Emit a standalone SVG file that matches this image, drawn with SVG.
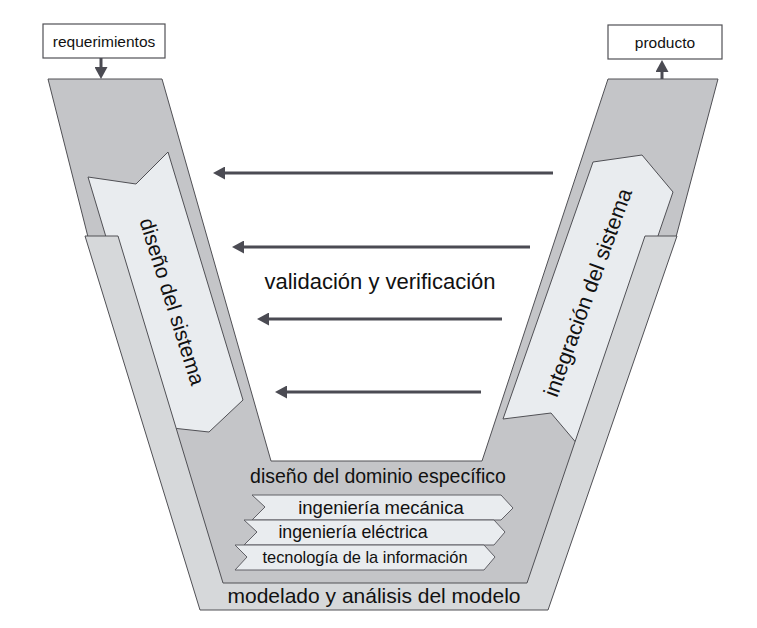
<svg xmlns="http://www.w3.org/2000/svg" width="757" height="628" viewBox="0 0 757 628">
<style>
.dark{fill:#c4c5c8;stroke:#505055;stroke-width:1}
.light{fill:#d6d8da;stroke:#505055;stroke-width:1}
.box{fill:#e9ecef;stroke:#505055;stroke-width:1}
.chev{fill:#e9ecef;stroke:#606066;stroke-width:1}
.lbl{fill:#ffffff;stroke:#505055;stroke-width:1.2}
.t{font-family:"Liberation Sans",Arial,sans-serif;fill:#111;text-anchor:middle}
.arr{stroke:#4b4b53;stroke-width:3;fill:none;marker-end:url(#ah)}
</style>
<defs>
<marker id="ah" markerUnits="userSpaceOnUse" markerWidth="12" markerHeight="13" viewBox="0 0 12 13" refX="2" refY="6.5" orient="auto">
<path d="M0,0 L12,6.5 L0,13 Z" fill="#4b4b53"/>
</marker>
</defs>
<rect width="757" height="628" fill="#ffffff"/>
<g id="v-dark">
<polygon class="dark" points="48,79 162,79 271,461 482,461 608,79 718,79 676,237 540,600 205,600 88,237"/>
</g>
<g id="diseno-sistema">
<polygon class="box" points="88,177 136,184 168,152 243,400 209,432 163,427"/>
<text class="t" font-size="21" transform="translate(171,302) rotate(72.5)" x="0" y="6">diseño del sistema</text>
</g>
<g id="integracion-sistema">
<polygon class="box" points="593,162 642,155 673,192 584,452 551,413 503,419"/>
<text class="t" font-size="21.5" transform="translate(589,293) rotate(-70)" x="0" y="6">integración del sistema</text>
</g>
<g id="modelado">
<polygon class="light" points="85,236 118,236 223,583 527,583 645,236 677,236 548,610 200,610"/>
<text class="t" font-size="21" x="374" y="603">modelado y análisis del modelo</text>
</g>
<g id="dominio">
<text class="t" font-size="19.5" x="378" y="483">diseño del dominio específico</text>
</g>
<g id="ing-mecanica">
<polygon class="chev" points="252,495 501,495 513,508 501,520 252,520 265,507"/>
<text class="t" font-size="18.5" x="381" y="514">ingeniería mecánica</text>
</g>
<g id="ing-electrica">
<polygon class="chev" points="244,520 494,520 505,532 494,545 244,545 257,532"/>
<text class="t" font-size="17.8" x="353" y="538">ingeniería eléctrica</text>
</g>
<g id="tec-info">
<polygon class="chev" points="235,545 484,545 495,557 484,570 235,570 247,557"/>
<text class="t" font-size="16.4" x="365" y="563">tecnología de la información</text>
</g>
<g id="requerimientos">
<rect class="lbl" x="43" y="24" width="122" height="34"/>
<text class="t" font-size="15.5" x="104" y="47">requerimientos</text>
</g>
<g id="producto">
<rect class="lbl" x="608" y="25" width="114" height="34"/>
<text class="t" font-size="15.5" x="665" y="48">producto</text>
</g>
<g id="vv-label">
<text class="t" font-size="22" x="380" y="289">validación y verificación</text>
</g>
<g id="connectors">
<line class="arr" x1="101" y1="58" x2="101" y2="69"/>
<line class="arr" x1="662" y1="79" x2="662" y2="70"/>
<line class="arr" x1="553" y1="173" x2="223" y2="173"/>
<line class="arr" x1="530" y1="247" x2="242" y2="247"/>
<line class="arr" x1="502" y1="319" x2="267" y2="319"/>
<line class="arr" x1="481" y1="392" x2="285" y2="392"/>
</g>
</svg>
